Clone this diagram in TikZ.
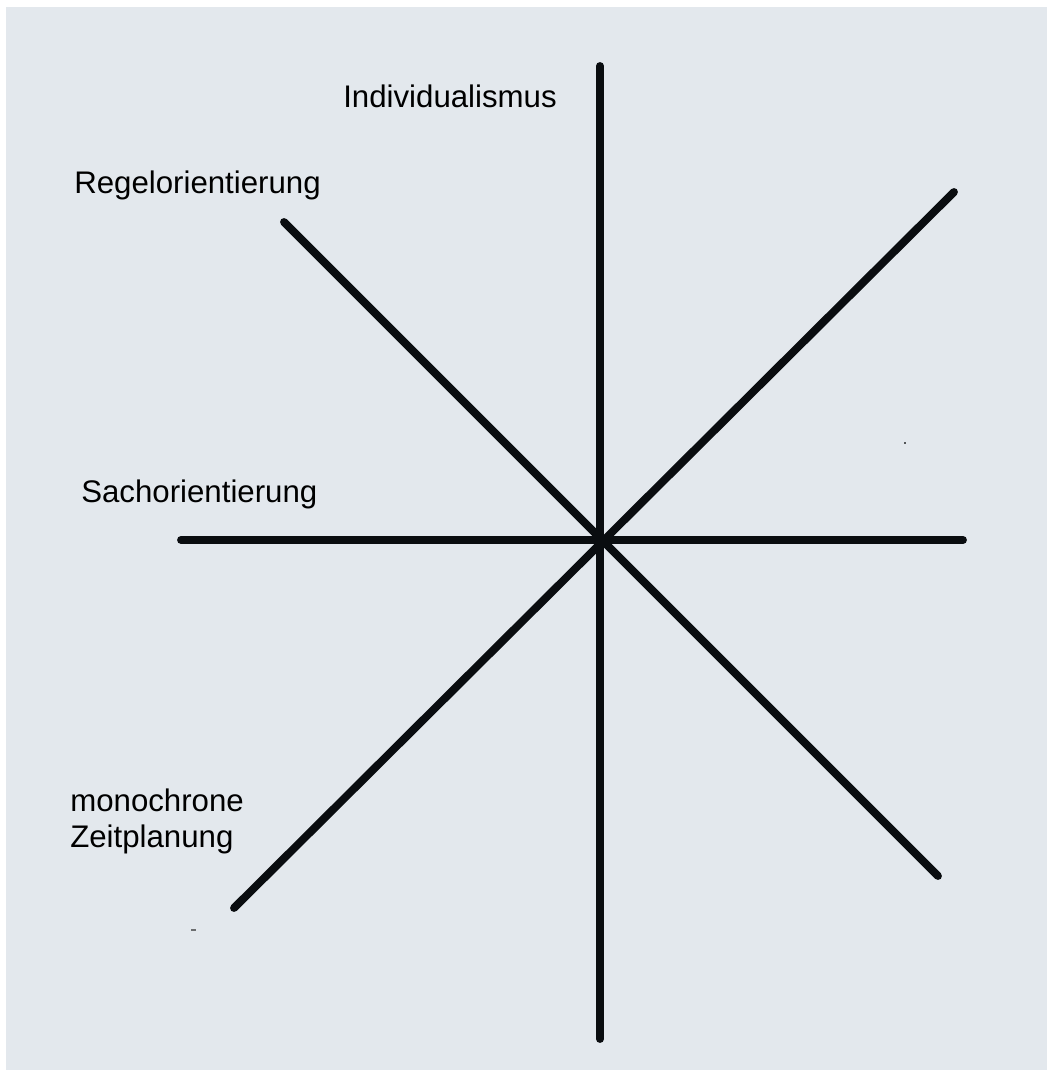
\documentclass[tikz,border=0pt]{standalone}
\usepackage{fontspec}
\setmainfont{Liberation Sans}
\definecolor{bggray}{HTML}{E3E8ED}
\definecolor{axisblack}{HTML}{0A0D10}

\begin{document}
\begin{tikzpicture}[x=0.025cm,y=-0.025cm,
  axis/.style={line width=5.6pt,line cap=round,color=axisblack},
  lbl/.style={font=\fontsize{22.2}{25.6}\selectfont,inner sep=0pt,align=left}]
\useasboundingbox (0,0) rectangle (1047,1070);
\fill[white] (0,0) rectangle (1047,1070);
\fill[bggray] (6,7) rectangle (1047,1070);
% ends of the axes
\coordinate (O) at (600,540);
\coordinate (N) at (600,66);
\coordinate (S) at (600,1039);
\coordinate (W) at (181,540);
\coordinate (E) at (963,540);
\coordinate (NW) at (284,222);
\coordinate (SE) at (938,876);
\coordinate (SW) at (234,908);
\coordinate (NE) at (954,192);
\draw[axis] (N)--(S);
\draw[axis] (W)--(E);
\draw[axis] (NW)--(SE);
\draw[axis] (SW)--(NE);
% small marks
\fill[axisblack!70] (904,442) rectangle (906,444);
\fill[axisblack!60] (191,929) rectangle (196,931);
% labels
\node[lbl,anchor=base west] (indiv) at (343,108) {Individualismus};
\node[lbl,anchor=base west] (regel) at (74,194) {Regelorientierung};
\node[lbl,anchor=base west] (sach) at (81,502) {Sachorientierung};
\node[lbl,anchor=north west] (zeit) at (70,789) {monochrone\\Zeitplanung};
\end{tikzpicture}
\end{document}
